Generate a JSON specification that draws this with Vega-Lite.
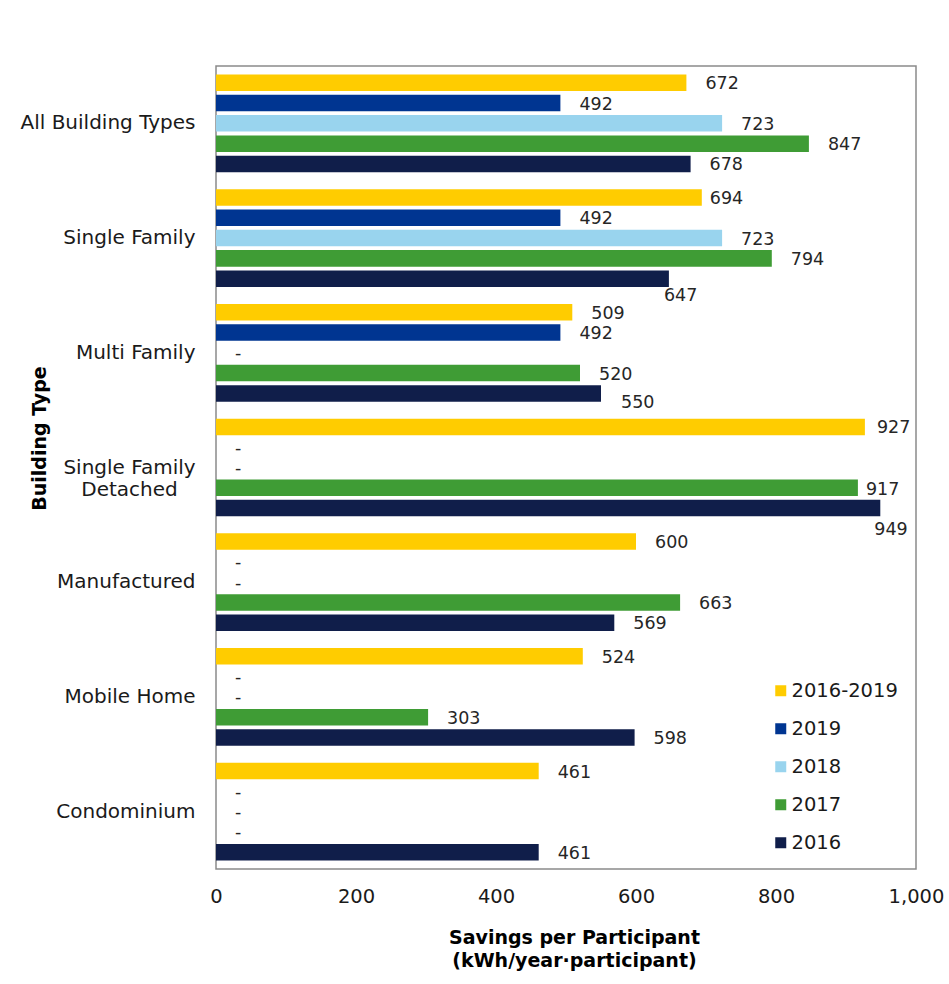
{
  "$schema": "https://vega.github.io/schema/vega-lite/v6.json",
  "width": 700,
  "height": 803,
  "autosize": {"type": "none"},
  "padding": {"left": 216, "top": 66, "right": 33, "bottom": 115},
  "background": "white",
  "config": {
    "font": "DejaVu Sans",
    "view": {"stroke": "#8a8a8a", "strokeWidth": 1.5}
  },
  "data": {
    "values": [
      {"type": "All Building Types", "series": "2016-2019", "value": 672},
      {"type": "All Building Types", "series": "2019", "value": 492},
      {"type": "All Building Types", "series": "2018", "value": 723},
      {"type": "All Building Types", "series": "2017", "value": 847},
      {"type": "All Building Types", "series": "2016", "value": 678},
      {"type": "Single Family", "series": "2016-2019", "value": 694},
      {"type": "Single Family", "series": "2019", "value": 492},
      {"type": "Single Family", "series": "2018", "value": 723},
      {"type": "Single Family", "series": "2017", "value": 794},
      {"type": "Single Family", "series": "2016", "value": 647},
      {"type": "Multi Family", "series": "2016-2019", "value": 509},
      {"type": "Multi Family", "series": "2019", "value": 492},
      {"type": "Multi Family", "series": "2018", "value": 0},
      {"type": "Multi Family", "series": "2017", "value": 520},
      {"type": "Multi Family", "series": "2016", "value": 550},
      {"type": "Single Family Detached", "series": "2016-2019", "value": 927},
      {"type": "Single Family Detached", "series": "2019", "value": 0},
      {"type": "Single Family Detached", "series": "2018", "value": 0},
      {"type": "Single Family Detached", "series": "2017", "value": 917},
      {"type": "Single Family Detached", "series": "2016", "value": 949},
      {"type": "Manufactured", "series": "2016-2019", "value": 600},
      {"type": "Manufactured", "series": "2019", "value": 0},
      {"type": "Manufactured", "series": "2018", "value": 0},
      {"type": "Manufactured", "series": "2017", "value": 663},
      {"type": "Manufactured", "series": "2016", "value": 569},
      {"type": "Mobile Home", "series": "2016-2019", "value": 524},
      {"type": "Mobile Home", "series": "2019", "value": 0},
      {"type": "Mobile Home", "series": "2018", "value": 0},
      {"type": "Mobile Home", "series": "2017", "value": 303},
      {"type": "Mobile Home", "series": "2016", "value": 598},
      {"type": "Condominium", "series": "2016-2019", "value": 461},
      {"type": "Condominium", "series": "2019", "value": 0},
      {"type": "Condominium", "series": "2018", "value": 0},
      {"type": "Condominium", "series": "2017", "value": 0},
      {"type": "Condominium", "series": "2016", "value": 461}
    ]
  },
  "encoding": {
    "y": {
      "field": "type",
      "type": "nominal",
      "sort": ["All Building Types", "Single Family", "Multi Family", "Single Family Detached", "Manufactured", "Mobile Home", "Condominium"],
      "scale": {"paddingInner": 0.148, "paddingOuter": 0.074},
      "axis": {
        "title": "Building Type",
        "titleFontSize": 19,
        "titleFontWeight": "bold",
        "titleColor": "#000000",
        "titleAngle": 270,
        "titleX": -176.5,
        "titleY": 372,
        "titleAlign": "center",
        "titleBaseline": "middle",
        "labelFontSize": 20,
        "labelColor": "#1a1a1a",
        "labelLimit": 400,
        "labelLineHeight": 22,
        "labelExpr": "datum.value === 'Single Family Detached' ? ['Single Family', 'Detached'] : datum.label",
        "labelAlign": {"condition": {"test": "datum.value === 'Single Family Detached'", "value": "center"}, "value": "right"},
        "labelPadding": {"condition": {"test": "datum.value === 'Single Family Detached'", "value": 87}, "value": 21},
        "ticks": false,
        "domain": false
      }
    },
    "yOffset": {
      "field": "series",
      "type": "nominal",
      "sort": ["2016-2019", "2019", "2018", "2017", "2016"],
      "scale": {"paddingInner": 0.187, "paddingOuter": 0}
    },
    "x": {
      "field": "value",
      "type": "quantitative",
      "scale": {"domain": [0, 1000], "nice": false},
      "axis": {
        "title": ["Savings per Participant", "(kWh/year·participant)"],
        "titleFontSize": 19,
        "titleFontWeight": "bold",
        "titleColor": "#000000",
        "titleX": 358,
        "titleY": 74,
        "titleAlign": "center",
        "titleBaseline": "alphabetic",
        "titleLineHeight": 23,
        "values": [0, 200, 400, 600, 800, 1000],
        "format": ",d",
        "labelFontSize": 19.5,
        "labelColor": "#1a1a1a",
        "labelPadding": 18,
        "labelFlush": false,
        "ticks": false,
        "domain": false,
        "grid": false
      }
    }
  },
  "layer": [
    {
      "mark": {"type": "bar"},
      "encoding": {
        "color": {
          "field": "series",
          "type": "nominal",
          "scale": {
            "domain": ["2016-2019", "2019", "2018", "2017", "2016"],
            "range": ["#FFCC00", "#003591", "#99D4EE", "#3F9C35", "#101E4A"]
          },
          "legend": {
            "orient": "none",
            "legendX": 555,
            "legendY": 615,
            "title": null,
            "symbolType": "square",
            "symbolSize": 121,
            "symbolStrokeWidth": 0,
            "labelFontSize": 19.5,
            "labelColor": "#1a1a1a",
            "labelOffset": 1,
            "rowPadding": 17,
            "padding": 0
          }
        }
      }
    },
    {
      "transform": [{"filter": "!((datum.type === 'Single Family' && (datum.series === '2016' || datum.series === '2016-2019')) || (datum.type === 'Multi Family' && datum.series === '2016') || (datum.type === 'Single Family Detached' && (datum.series === '2016-2019' || datum.series === '2017' || datum.series === '2016')))"}],
      "mark": {"type": "text", "align": "left", "baseline": "middle", "dx": 19, "dy": 1.5, "fontSize": 17.5, "color": "#262626"},
      "encoding": {
        "text": {"condition": {"test": "datum.value === 0", "value": "-"}, "field": "value", "type": "quantitative", "format": "d"}
      }
    },
    {
      "transform": [{"filter": "(datum.type === 'Single Family' && datum.series === '2016-2019') || (datum.type === 'Single Family Detached' && datum.series === '2017')"}],
      "mark": {"type": "text", "align": "left", "baseline": "middle", "dx": 8, "dy": 2, "fontSize": 17.5, "color": "#262626"},
      "encoding": {"text": {"field": "value", "type": "quantitative", "format": "d"}}
    },
    {
      "transform": [{"filter": "datum.type === 'Single Family Detached' && datum.series === '2016-2019'"}],
      "mark": {"type": "text", "align": "left", "baseline": "middle", "dx": 12, "dy": 1.5, "fontSize": 17.5, "color": "#262626"},
      "encoding": {"text": {"field": "value", "type": "quantitative", "format": "d"}}
    },
    {
      "transform": [{"filter": "datum.type === 'Multi Family' && datum.series === '2016'"}],
      "mark": {"type": "text", "align": "left", "baseline": "middle", "dx": 20, "dy": 10, "fontSize": 17.5, "color": "#262626"},
      "encoding": {"text": {"field": "value", "type": "quantitative", "format": "d"}}
    },
    {
      "transform": [{"filter": "datum.type === 'Single Family' && datum.series === '2016'"}],
      "mark": {"type": "text", "align": "left", "baseline": "middle", "dx": -5, "dy": 17.5, "fontSize": 17.5, "color": "#262626"},
      "encoding": {"text": {"field": "value", "type": "quantitative", "format": "d"}}
    },
    {
      "transform": [{"filter": "datum.type === 'Single Family Detached' && datum.series === '2016'"}],
      "mark": {"type": "text", "align": "left", "baseline": "middle", "dx": -6, "dy": 21.5, "fontSize": 17.5, "color": "#262626"},
      "encoding": {"text": {"field": "value", "type": "quantitative", "format": "d"}}
    }
  ]
}
